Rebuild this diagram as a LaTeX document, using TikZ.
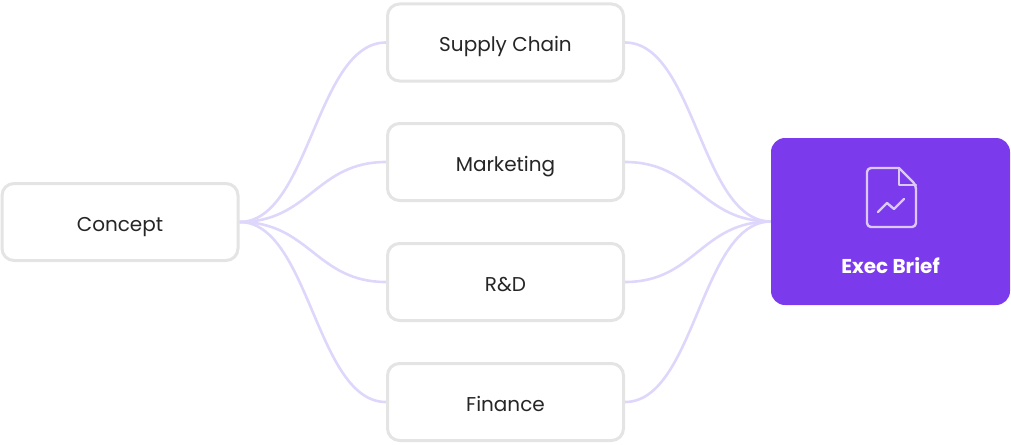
\documentclass[tikz,border=0pt]{standalone}
\usepackage{fontspec}
\setmainfont{Poppins}
\usetikzlibrary{backgrounds}
\definecolor{edge}{HTML}{DED6FB}
\definecolor{bord}{HTML}{E4E4E4}
\definecolor{purp}{HTML}{7C3AED}
\definecolor{icon}{HTML}{DCC8FB}
\begin{document}
\begin{tikzpicture}[x=1pt,y=-1pt,
 box/.style={draw=bord,line width=3pt,rounded corners=12pt,fill=white,minimum width=236pt,minimum height=77pt,font=\fontsize{20}{24}\selectfont,text=black!85,text depth=0pt,text height=19pt},
 con/.style={draw=edge,line width=2.6pt},
 ic/.style={icon,line width=2.4pt,line join=round,line cap=round}]
\useasboundingbox (0,0) rectangle (1011,444);
\node[box] (c) at (120,222) {Concept};
\node[box] (s) at (505.5,42.5) {Supply Chain};
\node[box] (m) at (505.5,162) {Marketing};
\node[box] (r) at (505.5,282) {R\&D};
\node[box] (f) at (505.5,402) {Finance};
\node[fill=purp,rounded corners=14pt,minimum width=239pt,minimum height=167pt] (e) at (890.5,221.5) {};
\begin{scope}[on background layer]
\foreach \n in {s,m,r,f}{
 \draw[con] (c.east) .. controls +(70,0) and +(-70,0) .. (\n.west);
 \draw[con] (\n.east) .. controls +(70,0) and +(-70,0) .. (e.west);
}
\end{scope}
\node[text=white,font=\fontsize{20}{24}\selectfont\bfseries] (el) at (890.5,266) {Exec Brief};
\draw[ic,rounded corners=4pt]
 (899,168) -- (874,168) -- (867,168) -- (867,227) -- (916,227) -- (916,185) [sharp corners]-- (899,168);
\draw[ic] (899,168) -- (899,185) -- (916,185);
\draw[ic] (878,212) -- (887,203) -- (894,209) -- (904,199);
\end{tikzpicture}
\end{document}
